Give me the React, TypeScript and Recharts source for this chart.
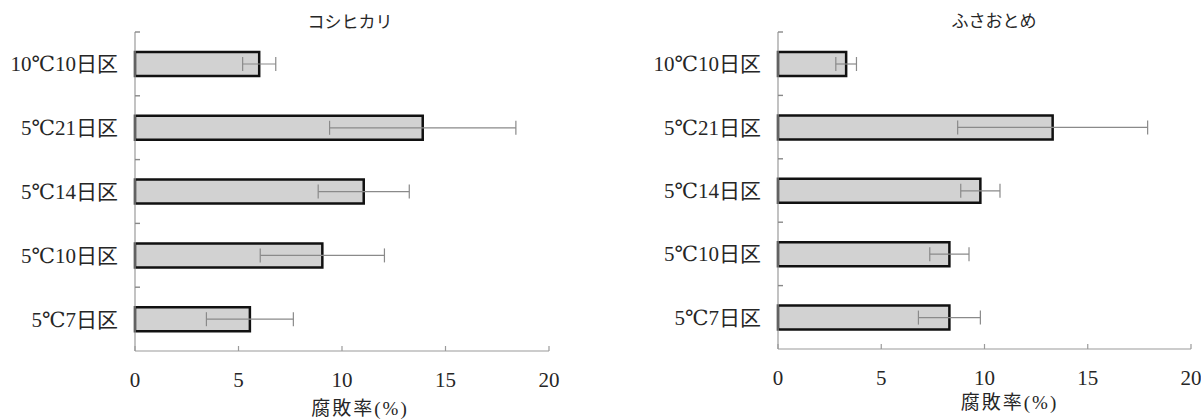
import React from 'react';
import { BarChart, Bar, XAxis, YAxis, ErrorBar } from 'recharts';

const categories = ['10℃10日区', '5℃21日区', '5℃14日区', '5℃10日区', '5℃7日区'];
const koshihikariRate = [6.0, 13.9, 11.05, 9.05, 5.55];
const koshihikariErr = [0.8, 4.5, 2.2, 3.0, 2.1];
const fusaotomeRate = [3.3, 13.3, 9.8, 8.3, 8.3];
const fusaotomeErr = [0.5, 4.6, 0.95, 0.95, 1.5];
const xTicks = [0, 5, 10, 15, 20];

const FONT = "'Liberation Serif', 'DejaVu Serif', 'Noto Sans CJK JP', serif";
const TEXT = '#262626';
const AXIS = '#9a9a9a';
const X_TICK_MARGIN = 21;
const Y_TICK_MARGIN = 17;
const CHART_H = 419;

function XTick(props: any) {
  const { x, y, payload } = props;
  const axisY = y - X_TICK_MARGIN;
  return (
    <g>
      <line x1={x} x2={x} y1={axisY} y2={axisY - 5} stroke={AXIS} strokeWidth={1.2} />
      <text x={x} y={y} dy="0.71em" textAnchor="middle" fill={TEXT} fontSize={21} fontFamily={FONT}>
        {payload.value}
      </text>
    </g>
  );
}

function YTick(props: any) {
  const { x, y, payload, halfband } = props;
  const axisX = Number(x) + Y_TICK_MARGIN;
  const yy = Number(y);
  const half = Number(halfband);
  return (
    <g>
      <line x1={axisX} x2={axisX + 5} y1={yy - half} y2={yy - half} stroke="#888" strokeWidth={1.4} />
      <text x={x} y={y} dy="0.355em" textAnchor="end" fill={TEXT} fontSize={21} fontFamily={FONT}>
        {payload.value}
      </text>
    </g>
  );
}

type PanelProps = {
  title: string;
  rate: number[];
  err: number[];
  left: number;
  width: number;
  margin: { top: number; right: number; bottom: number; left: number };
  xAxisHeight: number;
  titleX: number;
  titleY: number;
  labelDx: number;
  labelOffset: number;
};

function Panel(p: PanelProps) {
  const data = categories.map((name, i) => ({ name, rate: p.rate[i], err: p.err[i] }));
  const plotH = CHART_H - p.margin.top - p.margin.bottom - p.xAxisHeight;
  const halfBand = plotH / categories.length / 2;
  const renderYTick = (tp: any) => <YTick {...tp} halfband={halfBand} />;
  return (
    <div style={{ position: 'absolute', left: p.left, top: 0, width: p.width, height: CHART_H }}>
      <BarChart
        width={p.width}
        height={CHART_H}
        data={data}
        layout="vertical"
        margin={p.margin}
        barSize={24}
      >
        <XAxis
          type="number"
          domain={[0, 20]}
          ticks={xTicks}
          height={p.xAxisHeight}
          axisLine={{ stroke: AXIS, strokeWidth: 1.2 }}
          tickLine={false}
          tickSize={0}
          tickMargin={X_TICK_MARGIN}
          tick={<XTick />}
          label={{
            value: '腐敗率(%)',
            position: 'insideBottom',
            offset: p.labelOffset,
            dx: p.labelDx,
            fill: TEXT,
            fontSize: 19,
            fontFamily: FONT,
            letterSpacing: 2,
          }}
        />
        <YAxis
          type="category"
          dataKey="name"
          width={120}
          axisLine={{ stroke: AXIS, strokeWidth: 1.2 }}
          tickLine={false}
          tickSize={0}
          tickMargin={Y_TICK_MARGIN}
          tick={renderYTick}
        />
        <Bar dataKey="rate" fill="#d2d2d2" stroke="#111" strokeWidth={2.5} isAnimationActive={false}>
          <ErrorBar dataKey="err" direction="x" width={7} stroke="#8a8a8a" strokeWidth={1.2} isAnimationActive={false} />
        </Bar>
      </BarChart>
      <div
        style={{
          position: 'absolute',
          left: p.titleX - p.left - 100,
          top: p.titleY - 11,
          width: 200,
          textAlign: 'center',
          fontFamily: FONT,
          fontSize: 17,
          lineHeight: '22px',
          color: TEXT,
        }}
      >
        {p.title}
      </div>
    </div>
  );
}

export default function App() {
  return (
    <div style={{ position: 'absolute', left: 0, top: 0, width: 1201, height: 419, background: '#fff', overflow: 'hidden' }}>
      <Panel
        title="コシヒカリ"
        rate={koshihikariRate}
        err={koshihikariErr}
        left={0}
        width={600}
        margin={{ top: 32, right: 51, bottom: 0, left: 15 }}
        xAxisHeight={68}
        titleX={350}
        titleY={23}
        labelDx={18}
        labelOffset={4}
      />
      <Panel
        title="ふさおとめ"
        rate={fusaotomeRate}
        err={fusaotomeErr}
        left={600}
        width={601}
        margin={{ top: 32, right: 10, bottom: 0, left: 58 }}
        xAxisHeight={70}
        titleX={994}
        titleY={22}
        labelDx={25}
        labelOffset={10}
      />
    </div>
  );
}
